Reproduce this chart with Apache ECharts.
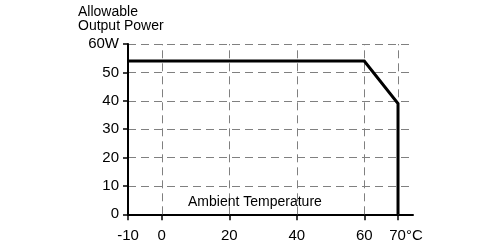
<!DOCTYPE html>
<html><head><meta charset="utf-8">
<script src="https://cdn.jsdelivr.net/npm/echarts@6/dist/echarts.min.js"></script>
<style>html,body{margin:0;padding:0;background:#fff}#c{width:500px;height:247px}</style>
</head><body><div id="c"></div>
<script>
// Derating curve: ambient temperature (°C) vs allowable output power (W)
const temperature = [-10, 60, 70, 70];
const power = [54, 54, 39, 0];
const xTicks = [-10, 0, 20, 40, 60, 70];
const xGrid = [0, 20, 40, 60, 70];
const yTicks = [0, 10, 20, 30, 40, 50, 60];

const chart = echarts.init(document.getElementById('c'), null, {renderer: 'canvas'});
const font = 'Liberation Sans, Arial, sans-serif';
chart.setOption({
  animation: false,
  title: [
    {text: 'Allowable\nOutput Power', left: 78, top: 5, padding: 0,
     textStyle: {fontFamily: font, fontSize: 14, fontWeight: 'normal', color: '#000', lineHeight: 14}},
    {text: 'Ambient Temperature', left: 188, top: 195, padding: 0,
     textStyle: {fontFamily: font, fontSize: 14, fontWeight: 'normal', color: '#000'}}
  ],
  grid: {left: 128, top: 44, width: 285, height: 170.3, containLabel: false},
  xAxis: {
    type: 'value', min: -10, max: 74.44,
    axisLine: {onZero: false, lineStyle: {color: '#000', width: 2}},
    axisTick: {show: true, customValues: xTicks, length: 6, lineStyle: {color: '#000', width: 1.5}},
    axisLabel: {
      customValues: xTicks, margin: 14, color: '#000', fontFamily: font, fontSize: 15,
      formatter: v => v === 70 ? '{a|70°C}' : String(v),
      rich: {a: {fontFamily: font, fontSize: 15, color: '#000', padding: [0, 0, 0, 16]}}
    },
    splitLine: {show: false}
  },
  yAxis: {
    type: 'value', min: 0, max: 60, interval: 10,
    axisLine: {show: true, onZero: false, lineStyle: {color: '#000', width: 2}},
    axisTick: {show: true, length: 5, lineStyle: {color: '#000', width: 1.5}},
    axisLabel: {margin: 9, color: '#000', fontFamily: font, fontSize: 15,
      formatter: v => v === 60 ? '60W' : String(v)},
    splitLine: {show: true, lineStyle: {color: '#808080', width: 1, type: [8, 5]}}
  },
  series: [
    {
      type: 'line', data: [], z: 1, silent: true,
      markLine: {
        silent: true, symbol: 'none', animation: false,
        label: {show: false},
        lineStyle: {color: '#808080', width: 1, type: [8, 5]},
        data: xGrid.map(v => ({xAxis: v}))
      }
    },
    {
      type: 'line', z: 5,
      data: temperature.map((t, i) => [t, power[i]]),
      symbol: 'none',
      lineStyle: {color: '#000', width: 3, join: 'miter'}
    }
  ]
});
</script></body></html>
